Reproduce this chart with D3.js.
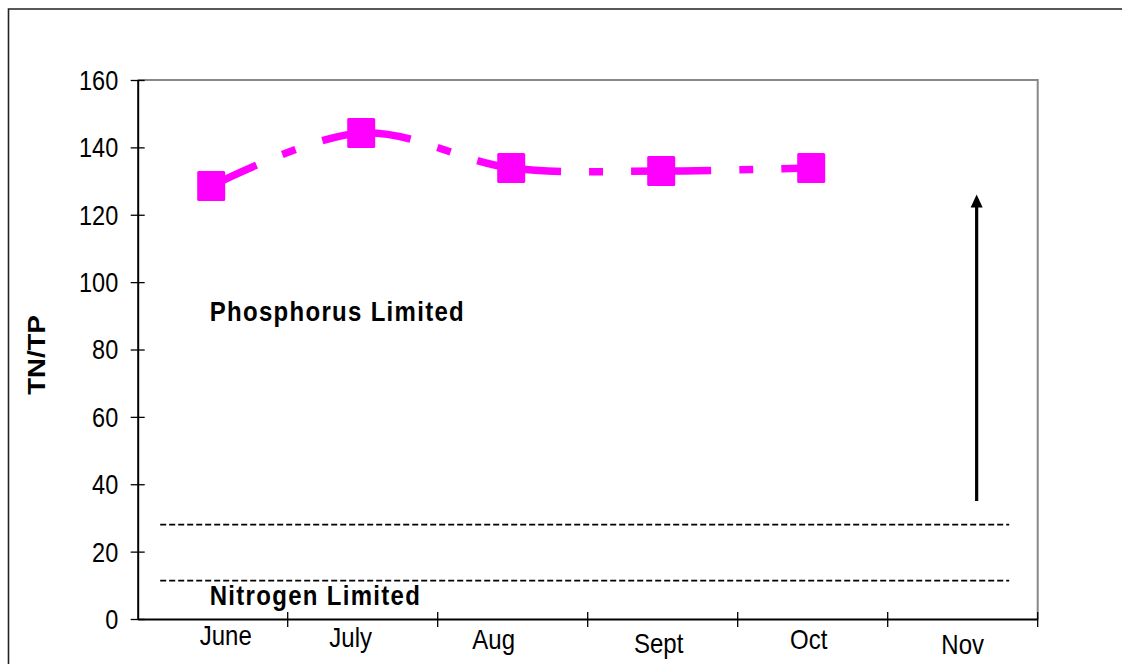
<!DOCTYPE html>
<html>
<head>
<meta charset="utf-8">
<script src="https://cdn.jsdelivr.net/npm/d3@7"></script>
<style>
  html, body { margin: 0; padding: 0; background: #fff; }
  svg { display: block; }
  text { font-family: "Liberation Sans", Arial, sans-serif; fill: #000; }
</style>
</head>
<body>
<script>
// ---- data ----
const months = ["June", "July", "Aug", "Sept", "Oct", "Nov"];
const ratioMonths = ["June", "July", "Aug", "Sept", "Oct"];
const ratioValues = [128.5, 144.3, 133.9, 133.0, 133.9];
const yTicks = [0, 20, 40, 60, 80, 100, 120, 140, 160];
const thresholdValues = [28.0, 11.4];
const arrowMonth = "Nov";
const arrowFromTo = [35, 126];
const annotations = [
  { text: "Phosphorus Limited", month: "June", value: 88.5 },
  { text: "Nitrogen Limited", month: "June", value: 4.2 }
];
const yTitle = "TN/TP";

// ---- layout ----
const W = 1122, H = 664;
const plot = { left: 137.7, right: 1037.7, top: 80, bottom: 619 };
const labelNudge = [[13, 26], [-12, 28], [-19, 30], [-4, 34], [-4, 30], [0, 35]];
const VS = 1.15; // vertical stretch of text in reference

const svg = d3.select("body").append("svg").attr("width", W).attr("height", H);

const x = d3.scaleBand().domain(months).range([plot.left, plot.right]).padding(0);
const bw = x.bandwidth();
const y = d3.scaleLinear().domain([0, 160]).range([plot.bottom, plot.top]);
const cx = m => x(m) + bw / 2 - 1.5;

// outer frame
svg.append("path")
  .attr("d", `M8.5,${H + 2} V9 H${W + 2}`)
  .attr("fill", "none").attr("stroke", "#222").attr("stroke-width", 1.6);

// plot area border (top and right, gray)
svg.append("path")
  .attr("d", `M${plot.left},${plot.top} H${plot.right} V${plot.bottom}`)
  .attr("fill", "none").attr("stroke", "#888").attr("stroke-width", 2);

// y axis
const yAxis = svg.append("g").attr("transform", `translate(${plot.left},0)`)
  .call(d3.axisLeft(y).tickValues(yTicks).tickSize(7).tickSizeOuter(0).tickPadding(0));
yAxis.select(".domain").attr("stroke", "#000").attr("stroke-width", 2);
yAxis.selectAll(".tick line").attr("stroke", "#000").attr("stroke-width", 1.3).attr("x2", -7).attr("x1", 7);
yAxis.selectAll(".tick text").remove();
yAxis.selectAll(".tick").append("text")
  .attr("transform", d => `translate(-19.5,0) scale(1,${VS})`)
  .attr("dy", "0.35em")
  .attr("text-anchor", "end")
  .style("font-size", "23.5px")
  .text(d => d);

// x axis
const xAxis = svg.append("g").attr("transform", `translate(0,${plot.bottom})`)
  .call(d3.axisBottom(x).tickSize(0).tickSizeOuter(0));
xAxis.select(".domain").attr("stroke", "#000").attr("stroke-width", 2);
xAxis.selectAll(".tick").remove();
const boundaries = months.map(m => x(m)).concat([plot.right]);
xAxis.selectAll("line.sep").data(boundaries.slice(1)).join("line")
  .attr("class", "sep")
  .attr("x1", d => d).attr("x2", d => d)
  .attr("y1", -7).attr("y2", 8)
  .attr("stroke", "#000").attr("stroke-width", 1.3);
xAxis.selectAll("text.lab").data(months).join("text")
  .attr("class", "lab")
  .attr("transform", (d, i) => `translate(${x(d) + bw / 2 + labelNudge[i][0]},${labelNudge[i][1]}) scale(1,${VS})`)
  .attr("text-anchor", "middle")
  .style("font-size", "24px")
  .text(d => d);

// threshold dashed lines
svg.selectAll("line.thr").data(thresholdValues).join("line")
  .attr("class", "thr")
  .attr("x1", x("June") + bw * 0.15).attr("x2", x("Nov") + bw * 0.81)
  .attr("y1", d => y(d)).attr("y2", d => y(d))
  .attr("stroke", "#000").attr("stroke-width", 1.8)
  .attr("stroke-dasharray", "6,3");

// annotations
svg.selectAll("text.ann").data(annotations).join("text")
  .attr("class", "ann")
  .attr("transform", d => `translate(${x(d.month) + bw * 0.48},${y(d.value)}) scale(1,${VS})`)
  .style("font-size", "24px").style("font-weight", "bold")
  .style("letter-spacing", "1.3px")
  .text(d => d.text);

// y title
svg.append("text")
  .attr("transform", `translate(45,355) rotate(-90) scale(${VS},1)`)
  .attr("text-anchor", "middle")
  .style("font-size", "24px").style("font-weight", "bold")
  .text(yTitle);

// arrow
const ax = x(arrowMonth) + bw * 0.593;
const yA0 = y(arrowFromTo[0]), yA1 = y(arrowFromTo[1]);
svg.append("line")
  .attr("x1", ax).attr("x2", ax).attr("y1", yA0).attr("y2", yA1 + 10)
  .attr("stroke", "#000").attr("stroke-width", 3.2);
svg.append("path")
  .attr("d", `M${ax},${yA1} L${ax - 6},${yA1 + 13} L${ax + 6},${yA1 + 13} Z`)
  .attr("fill", "#000");

// ratio line (smoothed, dash pattern restarting per segment)
const pts = ratioMonths.map((m, i) => [cx(m), y(ratioValues[i])]);
const lineGen = d3.line().curve(d3.curveCatmullRom);
const dFull = lineGen(pts);
const segs = dFull.split("C").slice(1);
svg.selectAll("path.seg").data(segs).join("path")
  .attr("class", "seg")
  .attr("d", (s, i) => `M${pts[i][0]},${pts[i][1]}C${s}`)
  .attr("fill", "none")
  .attr("stroke", "#ff00ff").attr("stroke-width", 7.5)
  .attr("stroke-dasharray", "80,28,14,28")
  .attr("stroke-dashoffset", 30);

// markers
const ms = 28;
svg.selectAll("rect.mk").data(ratioValues).join("rect")
  .attr("class", "mk")
  .attr("x", (d, i) => cx(ratioMonths[i]) - ms / 2)
  .attr("y", d => y(d) - ms / 2 - 1)
  .attr("width", ms).attr("height", ms + 2)
  .attr("rx", 1.5)
  .attr("fill", "#ff00ff");
</script>
</body>
</html>
